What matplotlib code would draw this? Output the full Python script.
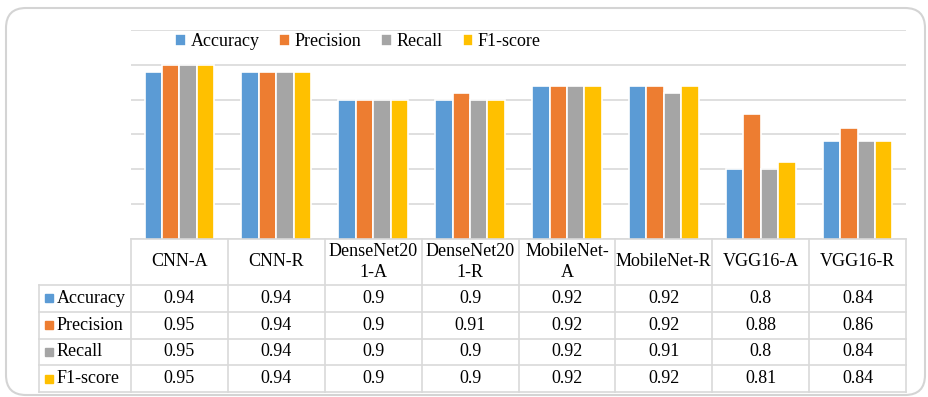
import matplotlib.pyplot as plt
import numpy as np
from matplotlib.patches import FancyBboxPatch

plt.rcParams['font.family'] = 'serif'
plt.rcParams['font.serif'] = ['Liberation Serif', 'DejaVu Serif']

models = ['CNN-A', 'CNN-R', 'DenseNet20\n1-A', 'DenseNet20\n1-R',
          'MobileNet-\nA', 'MobileNet-R', 'VGG16-A', 'VGG16-R']
metrics = ['Accuracy', 'Precision', 'Recall', 'F1-score']
accuracy = [0.94, 0.94, 0.9, 0.9, 0.92, 0.92, 0.8, 0.84]
precision = [0.95, 0.94, 0.9, 0.91, 0.92, 0.92, 0.88, 0.86]
recall = [0.95, 0.94, 0.9, 0.9, 0.92, 0.91, 0.8, 0.84]
f1_score = [0.95, 0.94, 0.9, 0.9, 0.92, 0.92, 0.81, 0.84]
series = [accuracy, precision, recall, f1_score]
colors = ['#5B9BD5', '#ED7D31', '#A5A5A5', '#FFC000']
grid_c = '#d9d9d9'
fs = 13
W, H = 929, 397

fig = plt.figure(figsize=(W / 100, H / 100), dpi=100)

# rounded frame around everything
bg = fig.add_axes([0, 0, 1, 1])
bg.set_xlim(0, W)
bg.set_ylim(H, 0)
bg.axis('off')
bg.add_patch(FancyBboxPatch((6, 8), 919, 387, boxstyle='round,pad=0,rounding_size=20',
                            fc='white', ec='#d4d4d4', lw=1.5))

# bar chart
ax = fig.add_axes([131 / W, 1 - 239 / H, 775 / W, 209 / H])
ax.patch.set_alpha(0)
x = np.arange(len(models)) + 0.5
step = 0.18
for k, (vals, c, name) in enumerate(zip(series, colors, metrics)):
    ax.bar(x + (k - 1.5) * step, vals, width=step, color=c, edgecolor='white',
           linewidth=1.2, label=name, zorder=3)
ax.set_xlim(0, len(models))
ax.set_ylim(0.7, 1.0)
ax.set_yticks(np.arange(0.7, 1.001, 0.05))
ax.yaxis.grid(True, color=grid_c, lw=1.2, zorder=0)
ax.tick_params(left=False, bottom=False, labelleft=False, labelbottom=False)
for s in ax.spines.values():
    s.set_visible(False)
ax.legend(loc='center left', bbox_to_anchor=(175 / W, 1 - 42 / H),
          bbox_transform=fig.transFigure, ncol=4, frameon=False, fontsize=fs,
          handlelength=0.6, handleheight=0.6, handletextpad=0.25,
          columnspacing=1.1, borderaxespad=0, borderpad=0)

# data table under the bars
tx = fig.add_axes([39 / W, 1 - 392 / H, (906 - 39) / W, (392 - 239) / H])
left = -(131 - 39) / 96.875
tx.set_xlim(left, len(models))
tx.set_ylim(153, 0)
tx.axis('off')
rows = [0, 46, 72.75, 99.5, 126.25, 153]
lk = dict(color=grid_c, lw=1.2, clip_on=False)
tx.plot([0, len(models)], [0, 0], **lk)
for y in rows[1:]:
    tx.plot([left, len(models)], [y, y], **lk)
for i in range(len(models) + 1):
    tx.plot([i, i], [0, 153], **lk)
tx.plot([left, left], [46, 153], **lk)

for i, m in enumerate(models):
    tx.text(i + 0.5, 23, m, ha='center', va='center', fontsize=fs, linespacing=1.25)
for r, (vals, c, name) in enumerate(zip(series, colors, metrics)):
    yc = (rows[r + 1] + rows[r + 2]) / 2
    tx.plot(left + 0.105, yc, marker='s', ms=6, color=c, clip_on=False)
    tx.text(left + 0.18, yc, name, ha='left', va='center', fontsize=fs)
    for i, v in enumerate(vals):
        tx.text(i + 0.5, yc, f'{v:g}', ha='center', va='center', fontsize=fs)

fig.savefig('out.png', dpi=100)
